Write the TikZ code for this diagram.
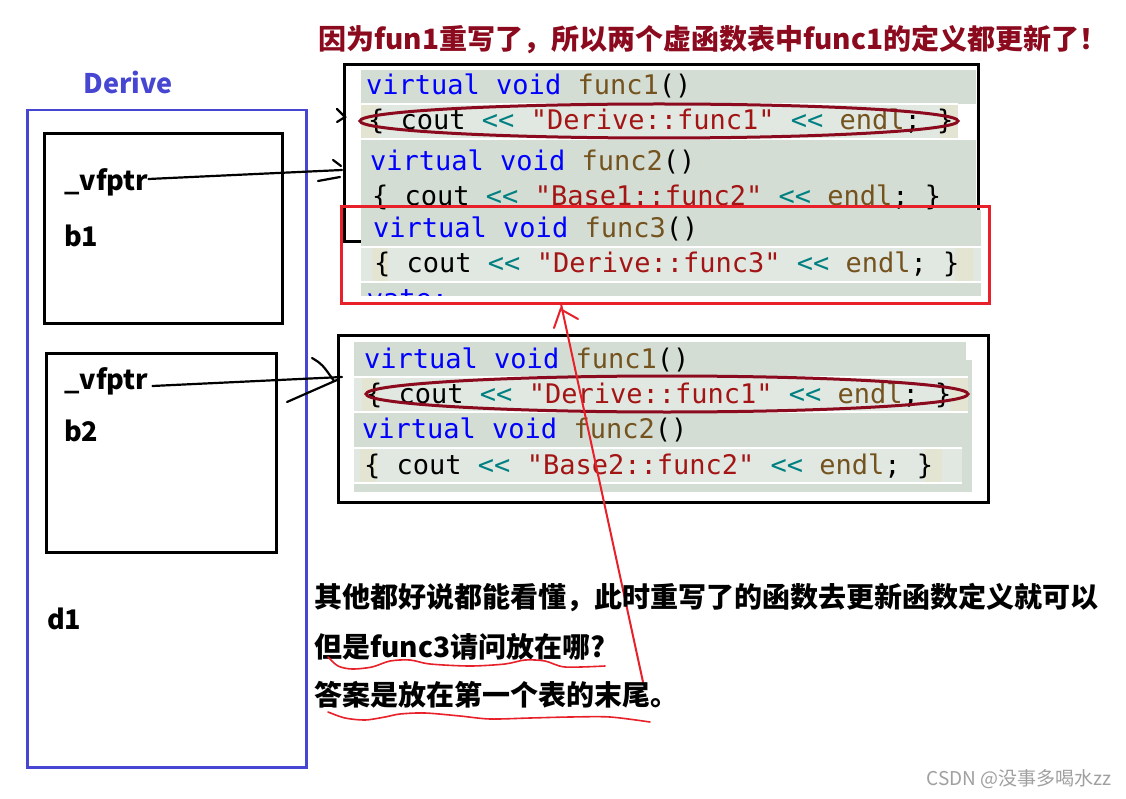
\documentclass[tikz,border=0pt]{standalone}
\usepackage{fontspec}
\usetikzlibrary{shapes.geometric}
\newfontfamily\cjk{Noto Sans CJK SC}
\newfontfamily\codefont{DejaVu Sans Mono}[Ligatures=TeXOff]
\definecolor{kw}{HTML}{0000FF}
\definecolor{fn}{HTML}{74531F}
\definecolor{op}{HTML}{008080}
\definecolor{str}{HTML}{A31515}
\definecolor{codebg}{HTML}{D3DDD4}
\definecolor{codelite}{HTML}{E1E7E1}
\definecolor{bracebg}{HTML}{E4E4D2}
\definecolor{titlered}{HTML}{8B0A1E}
\definecolor{ellred}{HTML}{8B0A1E}
\definecolor{boxred}{HTML}{E8202A}
\definecolor{derblue}{HTML}{4646D2}
\definecolor{wm}{HTML}{A0A0A0}
\newcommand{\vdecl}[1]{\textcolor{kw}{virtual void} \textcolor{fn}{#1}()}
\newcommand{\coutln}[1]{\{ cout \textcolor{op}{<<} \textcolor{str}{"#1"} \textcolor{op}{<<} \textcolor{fn}{endl}; \}}
\tikzset{
  codetxt/.style={anchor=west, inner sep=0pt, font=\codefont\fontsize{27}{27}\selectfont},
  frame/.style={draw=black, line width=3pt},
  lbl/.style={anchor=west, inner sep=0pt, font=\cjk\bfseries\fontsize{27}{27}\selectfont},
  cntext/.style={anchor=west, inner sep=0pt, font=\cjk\bfseries\fontsize{28}{28}\selectfont},
  hand/.style={line width=2.2pt, line cap=round},
  redhand/.style={draw=boxred, line width=2pt, line cap=round},
  oval/.style={draw=ellred, line width=3pt, ellipse, inner sep=0pt},
}
\begin{document}
\begin{tikzpicture}[x=1pt,y=-1pt]
\useasboundingbox (0,0) rectangle (1126,799);
\fill[white] (0,0) rectangle (1126,799);

% ---------- table 1 ----------
\node[frame, rectangle, minimum width=634pt, minimum height=177pt, anchor=north west, inner sep=0pt] (t1) at (343,63) {};
\fill[codebg] (361,70) rectangle (976,296);
\fill[codelite] (361,105) rectangle (958,138);
\draw[white, line width=1.5pt] (361,104) -- (958,104) (361,139) -- (958,139);
\fill[bracebg] (361,105) rectangle (379,138);
\fill[bracebg] (940,105) rectangle (958,138);
\fill[white] (958,104) rectangle (976,140);
\fill[codebg] (361,210) rectangle (981,296);
\fill[codelite] (361,248) rectangle (981,281);
\draw[white, line width=1.5pt] (361,247) -- (981,247) (361,282) -- (981,282);
\fill[bracebg] (372,248) rectangle (388,281);
\fill[bracebg] (955,248) rectangle (973,281);
\node[codetxt] (a1) at (366,86) {\vdecl{func1}};
\node[codetxt] (a2) at (368,121) {\coutln{Derive::func1}};
\node[codetxt] (a3) at (370,162) {\vdecl{func2}};
\node[codetxt] (a4) at (372,197) {\coutln{Base1::func2}};
\node[codetxt] (a5) at (373,229) {\vdecl{func3}};
\node[codetxt] (a6) at (374,264) {\coutln{Derive::func3}};
\begin{scope}
\clip (361,282) rectangle (981,296);
\node[codetxt, text=kw] (a7) at (318,301) {private:};
\end{scope}
\node[oval, minimum width=598pt, minimum height=34pt] (e1) at (659,121) {};
\node[draw=boxred, line width=3pt, rectangle, minimum width=648pt, minimum height=97pt, anchor=north west, inner sep=0pt] (rb) at (340,205) {};

% ---------- table 2 ----------
\node[frame, rectangle, minimum width=650pt, minimum height=167pt, anchor=north west, inner sep=0pt] (t2) at (337,334) {};
\fill[codebg] (354,342) rectangle (972,492);
\fill[white] (966,342) rectangle (972,360);
\fill[codelite] (354,378) rectangle (968,411);
\draw[white, line width=1.5pt] (354,377) -- (968,377) (354,412) -- (968,412);
\fill[bracebg] (362,378) rectangle (378,411);
\fill[bracebg] (950,378) rectangle (968,411);
\fill[codelite] (354,449) rectangle (962,482);
\draw[white, line width=1.5pt] (354,448) -- (962,448) (354,483) -- (962,483);
\fill[bracebg] (360,449) rectangle (376,482);
\fill[bracebg] (925,449) rectangle (942,482);
\node[codetxt] (c1) at (364,360) {\vdecl{func1}};
\node[codetxt] (c2) at (366,395) {\coutln{Derive::func1}};
\node[codetxt] (c3) at (362,430) {\vdecl{func2}};
\node[codetxt] (c4) at (364,466) {\coutln{Base2::func2}};
\node[oval, minimum width=602pt, minimum height=36pt] (e2) at (667,394) {};

% ---------- Derive object ----------
\node[draw=derblue, line width=2.5pt, rectangle, minimum width=279pt, minimum height=657pt, anchor=north west, inner sep=0pt] (d) at (26,109) {};
\node[frame, rectangle, minimum width=238pt, minimum height=190pt, anchor=north west, inner sep=0pt] (b1box) at (43,132) {};
\node[frame, rectangle, minimum width=230pt, minimum height=199pt, anchor=north west, inner sep=0pt] (b2box) at (45,352) {};
\node[anchor=center, inner sep=0pt, font=\cjk\bfseries\fontsize{27}{27}\selectfont, text=derblue] (dl) at (128,82) {Derive};
\node[lbl] (v1) at (64,182) {\_vfptr};
\node[lbl] (b1) at (64,236) {b1};
\node[lbl] (v2) at (64,381) {\_vfptr};
\node[lbl] (b2) at (64,431) {b2};
\node[lbl] (d1) at (47,619) {d1};

% ---------- pointer arrows ----------
\coordinate (p1) at (342,170);
\coordinate (p2) at (342,377);
\draw[hand] (v1.east) ++(0,-3) -- (p1);
\draw[hand] (333,160) -- (341,166);
\draw[hand] (318,181) -- (340,177);
\draw[hand] (337,109) -- (345,117) -- (337,122);
\draw[hand] (v2.east) ++(4,5) -- (p2);
\draw[hand] (312,358) .. controls (322,364) .. (334,381);
\draw[hand] (287,402) -- (337,380);

% ---------- red arrow ----------
\coordinate (rt) at (561,304);
\coordinate (rs) at (643,682);
\draw[redhand] (rs) -- (rt);
\draw[redhand] (561,308) -- (554,328);
\draw[redhand] (562,310) -- (578,319);

% ---------- texts ----------
\node[anchor=west, inner sep=0pt, font=\cjk\bfseries\fontsize{28}{28}\selectfont, text=titlered] (title) at (318,40) {因为fun1重写了，所以两个虚函数表中func1的定义都更新了！};
\node[cntext] (s1) at (314,598) {其他都好说都能看懂，此时重写了的函数去更新函数定义就可以};
\node[cntext] (s2) at (314,647) {但是func3请问放在哪?};
\node[cntext] (s3) at (314,695) {答案是放在第一个表的末尾。};
\draw[redhand, line width=1.6pt] plot[smooth] coordinates {(328,657) (338,666) (352,669) (372,667) (390,661) (410,660) (430,664) (470,666) (505,664) (525,660) (545,661) (565,667) (605,666)};
\draw[redhand, line width=1.6pt] plot[smooth] coordinates {(328,712) (345,718) (365,720) (385,717) (400,714) (425,713) (460,716) (490,719) (530,718) (570,717) (610,717) (650,722)};
\node[anchor=east, inner sep=0pt, font=\cjk\fontsize{19}{19}\selectfont, text=wm] (wmk) at (1112,779) {CSDN @没事多喝水zz};
\end{tikzpicture}
\end{document}
